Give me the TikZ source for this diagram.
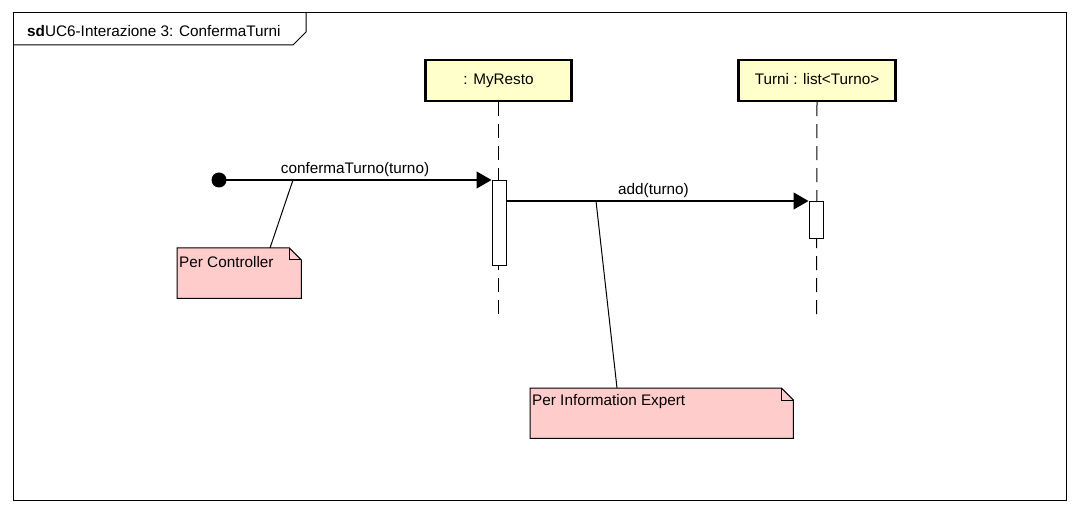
\documentclass[tikz,border=0pt]{standalone}
\usepackage{fontspec}
\setmainfont{Liberation Sans}
\usetikzlibrary{arrows.meta}
\definecolor{lifefill}{HTML}{FFFFCC}
\definecolor{notefill}{HTML}{FFCCCC}
\begin{document}
\begin{tikzpicture}[x=1pt,y=-1pt,
  every node/.style={font=\fontsize{15.3}{18}\selectfont, inner sep=0pt},
  lifebox/.style={draw, line width=2.2pt, fill=lifefill, minimum height=41pt},
  lifeline/.style={line width=1pt, dash pattern=on 14pt off 8pt},
  actbox/.style={draw, fill=white, line width=1pt, minimum width=14pt},
  msg/.style={line width=1.2pt, -{Triangle[length=15pt,width=17pt]}},
  noteline/.style={line width=1pt},
  notebox/.style={minimum width=#1, minimum height=50pt},
  notepath/.style={draw, fill=notefill, line width=1pt},
  frameline/.style={line width=1pt}]
\useasboundingbox (0,0) rectangle (1080,513);
% frame
\node[draw, frameline, minimum width=1053pt, minimum height=487pt] (frame) at (539.5,256.5) {};
\draw[frameline] (13,45) -- (293,45) -- (306,32) -- (306,13);
\node[anchor=west] (title) at (27,31) {\textbf{sd}UC6-Interazione 3: ConfermaTurni};
% lifelines
\node[lifebox, minimum width=146pt] (mr) at (498.5,80.5) {\raisebox{3pt}{: MyResto}};
\node[lifebox, minimum width=157pt] (tu) at (817,80.5) {\raisebox{3pt}{Turni : list<Turno>}};
\coordinate (mrend) at (498.5,318);
\coordinate (tuend) at (816.5,318);
\draw[lifeline] (mr.south) -- (mrend);
\draw[lifeline] (tu.south) -- (tuend);
% activations
\node[actbox, minimum height=85pt, anchor=north] (a1) at (499,180) {};
\node[actbox, minimum height=37pt, anchor=north] (a2) at (816,201) {};
% start dot
\fill (219,180) circle (7.5pt);
\coordinate (start) at (219,180);
% messages
\draw[msg] (start) -- (a1.north west);
\node[anchor=south] (m1) at (355,177) {confermaTurno(turno)};
\coordinate (a1out) at (506,201);
\draw[msg] (a1out) -- (a2.north west);
\node[anchor=south] (m2) at (653.5,198) {add(turno)};
% note 1
\node[notebox=124pt, anchor=north west] (n1) at (177,248) {};
\draw[notepath] (n1.north west) -- ([xshift=-12pt]n1.north east) -- ([yshift=-12pt]n1.north east) -- (n1.south east) -- (n1.south west) -- cycle;
\draw[line width=1pt] ([xshift=-12pt]n1.north east) -- ([xshift=-12pt,yshift=-12pt]n1.north east) -- ([yshift=-12pt]n1.north east);
\node[anchor=west] (t1) at (179,262) {Per Controller};
\coordinate (c1) at (293,180);
\draw[noteline] (c1) -- ([xshift=93pt]n1.north west);
% note 2
\node[notebox=263pt, anchor=north west] (n2) at (530,388) {};
\draw[notepath] (n2.north west) -- ([xshift=-12pt]n2.north east) -- ([yshift=-12pt]n2.north east) -- (n2.south east) -- (n2.south west) -- cycle;
\draw[line width=1pt] ([xshift=-12pt]n2.north east) -- ([xshift=-12pt,yshift=-12pt]n2.north east) -- ([yshift=-12pt]n2.north east);
\node[anchor=west] (t2) at (532,402) {Per Information Expert};
\coordinate (c2) at (596,201);
\draw[noteline] (c2) -- ([xshift=87pt]n2.north west);
\end{tikzpicture}
\end{document}
